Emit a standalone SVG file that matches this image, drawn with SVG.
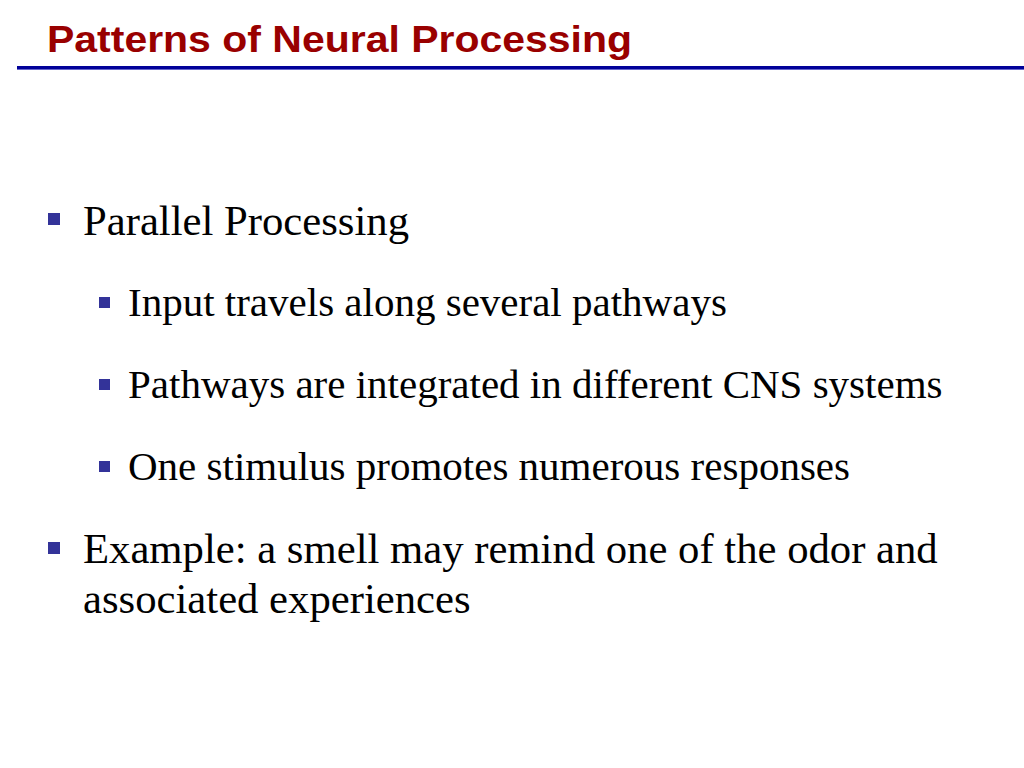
<svg xmlns="http://www.w3.org/2000/svg" width="1024" height="768" viewBox="0 0 1024 768">
<style>
.title{font-family:"Liberation Sans",Arial,sans-serif;font-weight:bold;font-size:37px;fill:#990000}
.l1{font-family:"Liberation Serif","Times New Roman",serif;font-size:42.7px;fill:#000}
.l2{font-family:"Liberation Serif","Times New Roman",serif;font-size:41px;fill:#000}
.b{fill:#333399}
</style>
<rect width="1024" height="768" fill="#fff"/>
<text class="title" x="47" y="52" textLength="585" lengthAdjust="spacingAndGlyphs">Patterns of Neural Processing</text>
<rect x="17" y="66" width="1007" height="3" fill="#000099"/>
<rect x="17" y="69" width="1007" height="1" fill="#6666cc"/>
<g id="b1">
<rect class="b" x="48" y="213" width="12" height="12"/>
<text class="l1" x="83" y="235">Parallel Processing</text>
</g>
<g id="b1a">
<rect class="b" x="99" y="297" width="11" height="11"/>
<text class="l2" x="128" y="316">Input travels along several pathways</text>
</g>
<g id="b1b">
<rect class="b" x="99" y="379" width="11" height="11"/>
<text class="l2" x="128" y="398">Pathways are integrated in different CNS systems</text>
</g>
<g id="b1c">
<rect class="b" x="99" y="461" width="11" height="11"/>
<text class="l2" x="128" y="480">One stimulus promotes numerous responses</text>
</g>
<g id="b2">
<rect class="b" x="48" y="542" width="12" height="12"/>
<text class="l1" x="83" y="563">Example: a smell may remind one of the odor and</text>
<text class="l1" x="83" y="613">associated experiences</text>
</g>
</svg>
